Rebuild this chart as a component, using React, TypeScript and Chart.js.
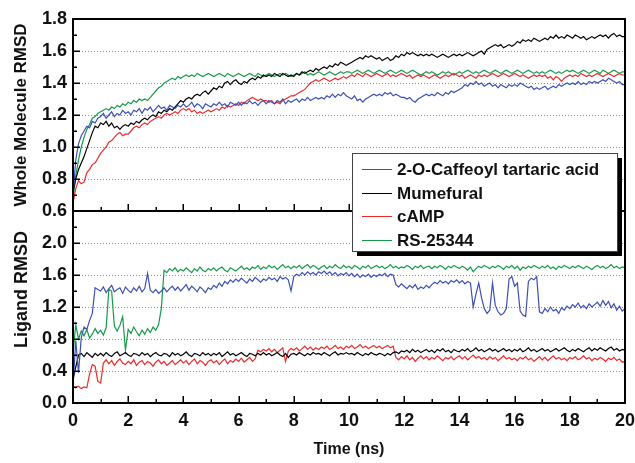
import { useEffect, useRef } from 'react';
import { Chart, registerables } from 'chart.js';

Chart.register(...registerables);

const seriesNames = ['2-O-Caffeoyl tartaric acid', 'Mumefural', 'cAMP', 'RS-25344'];
const seriesColors = ['#3c4fb4', '#000000', '#ec2a2a', '#17994b'];

// sampling times (ns), one sample every 0.1 ns from 0 to 20
const timeNs = Array.from({ length: 201 }, (_, i) => i / 10);

const timeTickValues = [0, 1, 2, 3, 4, 5, 6, 7, 8, 9, 10, 11, 12, 13, 14, 15, 16, 17, 18, 19, 20];
const timeTickLabels = ['0', '2', '4', '6', '8', '10', '12', '14', '16', '18', '20'];
const wholeTickValues = [0.6, 0.7, 0.8, 0.9, 1.0, 1.1, 1.2, 1.3, 1.4, 1.5, 1.6, 1.7, 1.8];
const wholeTickLabels = ['0.6', '0.8', '1.0', '1.2', '1.4', '1.6', '1.8'];
const ligandTickValues = [0, 0.2, 0.4, 0.6, 0.8, 1.0, 1.2, 1.4, 1.6, 1.8, 2.0, 2.2, 2.4];
const ligandTickLabels = ['0.0', '0.4', '0.8', '1.2', '1.6', '2.0'];

// Whole molecule RMSD (top panel)
const wholeBlue = [
  0.70, 0.92, 1.02, 1.07, 1.10, 1.13, 1.12, 1.16, 1.15, 1.18,
  1.19, 1.21, 1.18, 1.20, 1.22, 1.19, 1.21, 1.20, 1.23, 1.21,
  1.22, 1.20, 1.23, 1.22, 1.24, 1.21, 1.24, 1.23, 1.25, 1.22,
  1.24, 1.26, 1.24, 1.25, 1.23, 1.26, 1.25, 1.24, 1.26, 1.25,
  1.27, 1.25, 1.26, 1.28, 1.25, 1.27, 1.26, 1.24, 1.27, 1.26,
  1.25, 1.27, 1.26, 1.28, 1.26, 1.27, 1.25, 1.28, 1.27, 1.26,
  1.28, 1.26, 1.28, 1.27, 1.29, 1.27, 1.28, 1.26, 1.28, 1.29,
  1.27, 1.29, 1.28, 1.27, 1.29, 1.28, 1.30, 1.27, 1.29, 1.28,
  1.29, 1.30, 1.28, 1.30, 1.29, 1.31, 1.29, 1.30, 1.31, 1.30,
  1.31, 1.30, 1.32, 1.31, 1.33, 1.31, 1.33, 1.32, 1.34, 1.32,
  1.31, 1.30, 1.32, 1.29, 1.30, 1.28, 1.30, 1.31, 1.32, 1.33,
  1.32, 1.33, 1.32, 1.34, 1.33, 1.34, 1.32, 1.33, 1.32, 1.31,
  1.31, 1.30, 1.31, 1.29, 1.28, 1.30, 1.31, 1.32, 1.33, 1.32,
  1.33, 1.32, 1.34, 1.33, 1.32, 1.34, 1.33, 1.35, 1.34, 1.35,
  1.36, 1.37, 1.39, 1.38, 1.40, 1.39, 1.41, 1.39, 1.40, 1.38,
  1.39, 1.40, 1.38, 1.39, 1.37, 1.39, 1.38, 1.37, 1.39, 1.38,
  1.39, 1.38, 1.40, 1.39, 1.38, 1.37, 1.38, 1.36, 1.37, 1.36,
  1.37, 1.38, 1.36, 1.37, 1.38, 1.37, 1.39, 1.38, 1.39, 1.40,
  1.39, 1.40, 1.39, 1.41, 1.39, 1.40, 1.39, 1.41, 1.40, 1.41,
  1.40, 1.41, 1.42, 1.41, 1.43, 1.42, 1.41, 1.40, 1.41, 1.39,
  1.39,
];
const wholeBlack = [
  0.72, 0.80, 0.86, 0.90, 0.94, 0.99, 1.04, 1.09, 1.13, 1.12,
  1.15, 1.14, 1.16, 1.13, 1.15, 1.12, 1.13, 1.11, 1.13, 1.14,
  1.13, 1.15, 1.14, 1.16, 1.15, 1.17, 1.18, 1.17, 1.19, 1.20,
  1.19, 1.22, 1.21, 1.23, 1.22, 1.24, 1.23, 1.25, 1.27, 1.29,
  1.28, 1.30, 1.31, 1.30, 1.32, 1.33, 1.32, 1.34, 1.35, 1.33,
  1.35, 1.37, 1.36, 1.38, 1.37, 1.40, 1.41, 1.39, 1.41, 1.42,
  1.40, 1.39, 1.41, 1.40, 1.42, 1.43, 1.42, 1.44, 1.43, 1.45,
  1.44, 1.45, 1.44, 1.46, 1.45, 1.44, 1.46, 1.45, 1.44, 1.45,
  1.44, 1.46, 1.45, 1.47, 1.46, 1.47, 1.48, 1.47, 1.49, 1.48,
  1.49, 1.50, 1.49, 1.51, 1.50, 1.52, 1.51, 1.53, 1.52, 1.51,
  1.52, 1.53, 1.54, 1.55, 1.56, 1.55, 1.57, 1.56, 1.57, 1.56,
  1.55, 1.56, 1.54, 1.55, 1.56, 1.54, 1.55, 1.57, 1.56, 1.58,
  1.57, 1.59, 1.58, 1.59, 1.58, 1.57, 1.58, 1.57, 1.58, 1.57,
  1.58, 1.57, 1.56, 1.57, 1.58, 1.57, 1.56, 1.57, 1.58, 1.57,
  1.58, 1.57, 1.58, 1.59, 1.58, 1.57, 1.58, 1.59, 1.60, 1.58,
  1.61, 1.62, 1.63, 1.64, 1.63, 1.64, 1.62, 1.63, 1.64, 1.63,
  1.64, 1.66, 1.65, 1.67, 1.66, 1.67, 1.66, 1.68, 1.67, 1.66,
  1.67, 1.68, 1.67, 1.69, 1.68, 1.70, 1.68, 1.69, 1.68, 1.70,
  1.69, 1.68, 1.70, 1.69, 1.68, 1.69, 1.67, 1.68, 1.69, 1.68,
  1.69, 1.70, 1.69, 1.70, 1.68, 1.70, 1.71, 1.69, 1.70, 1.69,
  1.69,
];
const wholeRed = [
  0.65, 0.74, 0.79, 0.77, 0.78, 0.84, 0.86, 0.89, 0.90, 0.93,
  0.96, 0.98, 1.00, 1.03, 1.04, 1.06, 1.08, 1.09, 1.07, 1.08,
  1.08, 1.10, 1.12, 1.13, 1.12, 1.14, 1.15, 1.14, 1.16, 1.17,
  1.18, 1.19, 1.18, 1.20, 1.21, 1.20, 1.21, 1.22, 1.21, 1.23,
  1.24, 1.23, 1.24, 1.22, 1.23, 1.21, 1.22, 1.21, 1.22, 1.23,
  1.22, 1.23, 1.24, 1.23, 1.25, 1.24, 1.26, 1.25, 1.26, 1.27,
  1.26, 1.28, 1.27, 1.29, 1.30, 1.31, 1.30, 1.29, 1.30, 1.29,
  1.29, 1.28, 1.29, 1.27, 1.28, 1.27, 1.29, 1.30, 1.31, 1.32,
  1.32, 1.33, 1.34, 1.35, 1.36, 1.38, 1.40, 1.41, 1.42, 1.41,
  1.42, 1.43, 1.42, 1.41, 1.42, 1.43, 1.42, 1.43, 1.44, 1.43,
  1.44, 1.45, 1.44, 1.46, 1.45, 1.44, 1.46, 1.45, 1.44, 1.45,
  1.46, 1.45, 1.44, 1.45, 1.46, 1.44, 1.45, 1.44, 1.45, 1.46,
  1.45, 1.44, 1.45, 1.43, 1.44, 1.45, 1.44, 1.45, 1.44, 1.43,
  1.44, 1.45, 1.44, 1.43, 1.44, 1.45, 1.44, 1.45, 1.46, 1.45,
  1.44, 1.45, 1.43, 1.44, 1.45, 1.44, 1.43, 1.45, 1.44, 1.45,
  1.44, 1.45, 1.46, 1.45, 1.44, 1.45, 1.46, 1.45, 1.44, 1.45,
  1.46, 1.45, 1.44, 1.45, 1.44, 1.43, 1.44, 1.45, 1.44, 1.45,
  1.44, 1.45, 1.43, 1.44, 1.42, 1.44, 1.43, 1.41, 1.43, 1.44,
  1.45, 1.44, 1.45, 1.44, 1.46, 1.45, 1.44, 1.45, 1.44, 1.45,
  1.46, 1.45, 1.44, 1.45, 1.46, 1.45, 1.44, 1.45, 1.46, 1.45,
  1.45,
];
const wholeGreen = [
  0.67, 0.82, 0.92, 1.00, 1.06, 1.11, 1.14, 1.18, 1.19, 1.21,
  1.22, 1.23, 1.24, 1.23, 1.25, 1.24, 1.26, 1.25, 1.27, 1.26,
  1.28, 1.27, 1.29, 1.28, 1.30, 1.29, 1.30, 1.29, 1.31, 1.33,
  1.35, 1.37, 1.38, 1.40, 1.41, 1.42, 1.43, 1.42, 1.44, 1.43,
  1.44, 1.45, 1.44, 1.45, 1.44, 1.46, 1.45, 1.44, 1.45, 1.46,
  1.45, 1.44, 1.45, 1.46, 1.45, 1.44, 1.46, 1.45, 1.44, 1.45,
  1.46, 1.45, 1.44, 1.45, 1.46, 1.45, 1.44, 1.46, 1.45, 1.44,
  1.45, 1.46, 1.45, 1.44, 1.45, 1.46, 1.45, 1.46, 1.45, 1.44,
  1.45, 1.46, 1.45, 1.46, 1.47, 1.45, 1.46, 1.45, 1.46, 1.47,
  1.46, 1.45, 1.46, 1.47, 1.46, 1.45, 1.46, 1.47, 1.46, 1.47,
  1.47, 1.46, 1.47, 1.48, 1.47, 1.46, 1.47, 1.48, 1.47, 1.46,
  1.47, 1.48, 1.47, 1.46, 1.47, 1.48, 1.47, 1.46, 1.47, 1.48,
  1.47, 1.46, 1.47, 1.48, 1.47, 1.46, 1.45, 1.46, 1.47, 1.46,
  1.47, 1.46, 1.45, 1.46, 1.47, 1.46, 1.47, 1.46, 1.45, 1.46,
  1.47, 1.46, 1.47, 1.48, 1.47, 1.46, 1.47, 1.46, 1.47, 1.48,
  1.47, 1.46, 1.47, 1.48, 1.47, 1.46, 1.47, 1.48, 1.47, 1.46,
  1.47, 1.48, 1.47, 1.46, 1.47, 1.48, 1.47, 1.46, 1.47, 1.46,
  1.47, 1.46, 1.47, 1.48, 1.47, 1.46, 1.47, 1.46, 1.47, 1.48,
  1.47, 1.48, 1.47, 1.46, 1.47, 1.48, 1.47, 1.46, 1.47, 1.48,
  1.47, 1.46, 1.48, 1.47, 1.46, 1.47, 1.48, 1.47, 1.46, 1.47,
  1.47,
];

// Ligand RMSD (bottom panel)
const ligandBlue = [
  0.20, 0.78, 0.38, 0.82, 0.95, 0.92, 1.03, 1.12, 1.44, 1.42,
  1.40, 1.45, 1.38, 1.43, 1.47, 1.39, 1.42, 1.44, 1.37, 1.45,
  1.41, 1.38, 1.44, 1.40, 1.46, 1.39, 1.43, 1.62, 1.41, 1.38,
  1.42, 1.37, 1.40, 1.44, 1.39, 1.43, 1.46, 1.41, 1.45, 1.40,
  1.44, 1.48, 1.41, 1.46, 1.43, 1.39, 1.45, 1.42, 1.38, 1.44,
  1.42, 1.47, 1.44, 1.50, 1.46, 1.52, 1.49, 1.54, 1.51, 1.55,
  1.52, 1.56, 1.53, 1.50, 1.55, 1.52, 1.57, 1.54, 1.51, 1.55,
  1.53, 1.57, 1.54, 1.56, 1.52, 1.58, 1.55, 1.57, 1.54, 1.40,
  1.58, 1.61, 1.59, 1.63, 1.60, 1.64, 1.61, 1.63, 1.60, 1.64,
  1.62, 1.65, 1.61, 1.64, 1.60, 1.63, 1.59, 1.62, 1.60, 1.63,
  1.59, 1.62, 1.58, 1.61, 1.57, 1.60, 1.58, 1.61, 1.57, 1.60,
  1.58, 1.61, 1.59, 1.62, 1.58, 1.61, 1.60, 1.48, 1.45, 1.49,
  1.46, 1.43, 1.47, 1.44, 1.48, 1.42, 1.45, 1.43, 1.47, 1.44,
  1.48, 1.51, 1.49, 1.53, 1.50, 1.52, 1.49, 1.53, 1.51, 1.54,
  1.50, 1.53, 1.49, 1.52, 1.50, 1.20, 1.36, 1.50, 1.32, 1.18,
  1.12, 1.16, 1.50, 1.22, 1.14, 1.10, 1.12, 1.18, 1.55, 1.58,
  1.46, 1.50, 1.15, 1.10, 1.08, 1.52, 1.56, 1.54, 1.58, 1.14,
  1.12, 1.18, 1.14, 1.20, 1.15, 1.17, 1.12, 1.19, 1.16, 1.21,
  1.18, 1.23, 1.20, 1.25, 1.19, 1.22, 1.18, 1.24, 1.20, 1.23,
  1.26, 1.21, 1.28, 1.22, 1.27, 1.19, 1.24, 1.16, 1.21, 1.15,
  1.18,
];
const ligandBlack = [
  0.29, 0.45, 0.60, 0.62, 0.58, 0.63, 0.60, 0.57, 0.62, 0.59,
  0.62, 0.59, 0.63, 0.60, 0.58, 0.62, 0.64, 0.59, 0.61, 0.63,
  0.60, 0.58, 0.62, 0.61, 0.59, 0.63, 0.60, 0.62, 0.58, 0.61,
  0.63, 0.60, 0.59, 0.62, 0.61, 0.58, 0.63, 0.60, 0.62, 0.59,
  0.61, 0.64, 0.60, 0.58, 0.62, 0.61, 0.59, 0.63, 0.60, 0.62,
  0.59, 0.62, 0.60, 0.63, 0.58, 0.61, 0.64, 0.60, 0.62, 0.59,
  0.61, 0.63, 0.60, 0.58, 0.62, 0.61, 0.59, 0.62, 0.60, 0.63,
  0.60, 0.62, 0.59, 0.61, 0.63, 0.60, 0.58, 0.62, 0.57, 0.61,
  0.62, 0.60, 0.63, 0.61, 0.59, 0.62, 0.60, 0.63, 0.61, 0.62,
  0.60, 0.63, 0.61, 0.59, 0.62, 0.64, 0.60, 0.62, 0.61, 0.63,
  0.61, 0.62, 0.60, 0.63, 0.61, 0.59, 0.62, 0.60, 0.63, 0.61,
  0.60, 0.62, 0.61, 0.59, 0.62, 0.60, 0.63, 0.64, 0.62, 0.65,
  0.64, 0.66, 0.63, 0.67, 0.64, 0.66, 0.63, 0.65, 0.67, 0.64,
  0.66, 0.63, 0.67, 0.65, 0.68, 0.64, 0.66, 0.63, 0.67, 0.65,
  0.64, 0.67, 0.65, 0.68, 0.64, 0.66, 0.69, 0.65, 0.67, 0.64,
  0.66, 0.68, 0.65, 0.67, 0.64, 0.66, 0.68, 0.65, 0.67, 0.64,
  0.67, 0.65, 0.68, 0.64, 0.66, 0.69, 0.65, 0.67, 0.64, 0.66,
  0.68, 0.65, 0.67, 0.64, 0.66, 0.68, 0.65, 0.67, 0.69, 0.66,
  0.64, 0.67, 0.65, 0.68, 0.66, 0.64, 0.67, 0.69, 0.65, 0.68,
  0.66, 0.69, 0.67, 0.65, 0.68, 0.70, 0.66, 0.68, 0.65, 0.67,
  0.66,
];
const ligandRed = [
  0.20, 0.19, 0.21, 0.18, 0.20, 0.19, 0.36, 0.48, 0.46, 0.27,
  0.25, 0.50, 0.54, 0.49, 0.53, 0.47, 0.52, 0.55, 0.50, 0.48,
  0.52, 0.49, 0.54, 0.47, 0.51, 0.53, 0.48, 0.52, 0.50, 0.46,
  0.51, 0.54, 0.49, 0.52, 0.47, 0.50, 0.53, 0.48, 0.51, 0.54,
  0.50, 0.53, 0.48, 0.52, 0.55, 0.49, 0.53, 0.51, 0.47, 0.52,
  0.54, 0.50, 0.53, 0.48, 0.52, 0.55, 0.49, 0.53, 0.51, 0.55,
  0.52, 0.56, 0.51, 0.54, 0.57, 0.52, 0.55, 0.66, 0.64, 0.67,
  0.65, 0.68, 0.64, 0.67, 0.63, 0.66, 0.69, 0.52, 0.65, 0.68,
  0.66, 0.69, 0.65, 0.68, 0.71, 0.67, 0.70, 0.66, 0.69, 0.67,
  0.70, 0.68, 0.71, 0.67, 0.69, 0.72, 0.68, 0.70, 0.67, 0.71,
  0.69, 0.72, 0.68, 0.70, 0.73, 0.69, 0.71, 0.68, 0.70, 0.72,
  0.69, 0.71, 0.68, 0.70, 0.72, 0.69, 0.71, 0.57, 0.54, 0.58,
  0.55, 0.59, 0.54, 0.57, 0.52, 0.56, 0.59, 0.55, 0.58, 0.54,
  0.57, 0.55, 0.59, 0.56, 0.53, 0.57, 0.55, 0.58, 0.54, 0.57,
  0.59, 0.55, 0.58, 0.54, 0.57, 0.60, 0.56, 0.58, 0.55, 0.57,
  0.54, 0.58, 0.55, 0.57, 0.53, 0.56, 0.59, 0.55, 0.57, 0.54,
  0.56, 0.53, 0.57, 0.55, 0.58, 0.54, 0.56, 0.52, 0.55, 0.58,
  0.54, 0.57, 0.53, 0.56, 0.59, 0.55, 0.57, 0.54, 0.56, 0.53,
  0.57, 0.55, 0.58, 0.54, 0.56, 0.59, 0.55, 0.57, 0.53, 0.56,
  0.54, 0.57, 0.55, 0.52, 0.56, 0.54, 0.57, 0.53, 0.55, 0.51,
  0.52,
];
const ligandGreen = [
  0.62, 0.98, 0.80, 0.90, 0.84, 0.92, 0.81, 0.86, 0.93, 0.87,
  0.91, 0.85, 0.94, 1.42, 1.40, 0.96, 0.90, 0.97, 1.08, 0.66,
  0.92, 0.87, 0.95, 0.89, 0.84, 0.91, 0.86, 0.93, 0.88, 0.95,
  0.91, 0.98, 1.18, 1.66, 1.63, 1.68, 1.65, 1.69, 1.64, 1.67,
  1.65, 1.69, 1.66, 1.63, 1.68, 1.65, 1.70, 1.66, 1.64, 1.68,
  1.66, 1.69, 1.65, 1.68, 1.70, 1.66, 1.64, 1.69, 1.67, 1.65,
  1.68, 1.71, 1.67, 1.69, 1.66, 1.70, 1.68, 1.72, 1.67, 1.70,
  1.68, 1.72, 1.69, 1.71, 1.67, 1.70, 1.73, 1.69, 1.71, 1.68,
  1.71, 1.69, 1.72, 1.68, 1.71, 1.73, 1.69, 1.72, 1.70, 1.67,
  1.70, 1.72, 1.68, 1.71, 1.69, 1.73, 1.70, 1.68, 1.72, 1.69,
  1.71, 1.68, 1.72, 1.70, 1.67, 1.71, 1.69, 1.72, 1.68, 1.70,
  1.72, 1.69, 1.71, 1.68, 1.70, 1.73, 1.69, 1.71, 1.68, 1.70,
  1.69, 1.72, 1.70, 1.67, 1.71, 1.69, 1.72, 1.68, 1.70, 1.71,
  1.68, 1.71, 1.69, 1.72, 1.70, 1.67, 1.71, 1.69, 1.72, 1.70,
  1.68, 1.71, 1.69, 1.66, 1.70, 1.64, 1.68, 1.71, 1.69, 1.72,
  1.70, 1.68, 1.71, 1.69, 1.72, 1.70, 1.67, 1.71, 1.69, 1.72,
  1.68, 1.71, 1.66, 1.70, 1.68, 1.71, 1.69, 1.72, 1.70, 1.68,
  1.71, 1.69, 1.72, 1.68, 1.70, 1.67, 1.71, 1.69, 1.72, 1.70,
  1.68, 1.71, 1.69, 1.72, 1.70, 1.68, 1.71, 1.69, 1.67, 1.70,
  1.72, 1.69, 1.71, 1.68, 1.70, 1.73, 1.69, 1.71, 1.68, 1.70,
  1.69,
];

const wholeSeries = [wholeBlue, wholeBlack, wholeRed, wholeGreen];
const ligandSeries = [ligandBlue, ligandBlack, ligandRed, ligandGreen];

const FONT = "'Liberation Sans', Arial, Helvetica, sans-serif";

function labelFor(labels: string[], v: number): string {
  const hit = labels.find((l) => Math.abs(parseFloat(l) - v) < 1e-6);
  return hit === undefined ? '' : hit;
}

function toXY(vals: number[]) {
  return vals.map((y, i) => ({ x: timeNs[i], y }));
}

const framePlugin = {
  id: 'panelFrame',
  afterDatasetsDraw(chart: any) {
    const { ctx, chartArea: ca } = chart;
    const xs = chart.scales.x;
    const yW = chart.scales.yW;
    const yL = chart.scales.yL;
    ctx.save();
    ctx.strokeStyle = '#000';
    ctx.lineWidth = 1.5;
    ctx.beginPath();
    xs.ticks.forEach((t: any) => {
      const px = Math.round(xs.getPixelForValue(t.value)) + 0.25;
      const len = labelFor(timeTickLabels, t.value) ? 7 : 4;
      ctx.moveTo(px, ca.bottom);
      ctx.lineTo(px, ca.bottom - len);
      ctx.moveTo(px, yW.bottom);
      ctx.lineTo(px, yW.bottom - len);
    });
    yW.ticks.forEach((t: any) => {
      const py = Math.round(yW.getPixelForValue(t.value)) + 0.25;
      const len = labelFor(wholeTickLabels, t.value) ? 7 : 4;
      ctx.moveTo(ca.left, py);
      ctx.lineTo(ca.left + len, py);
    });
    yL.ticks.forEach((t: any) => {
      const py = Math.round(yL.getPixelForValue(t.value)) + 0.25;
      const len = labelFor(ligandTickLabels, t.value) ? 7 : 4;
      ctx.moveTo(ca.left, py);
      ctx.lineTo(ca.left + len, py);
    });
    ctx.stroke();
    ctx.lineWidth = 2;
    ctx.strokeRect(ca.left, ca.top, ca.right - ca.left, ca.bottom - ca.top);
    ctx.beginPath();
    ctx.moveTo(ca.left, yW.bottom);
    ctx.lineTo(ca.right, yW.bottom);
    ctx.stroke();
    ctx.restore();
  },
  afterDraw(chart: any) {
    const { ctx, chartArea: ca } = chart;
    const lx = ca.left + 279;
    const ly = ca.top + 134;
    const lw = 265;
    const lh = 98;
    ctx.save();
    ctx.fillStyle = '#000';
    ctx.fillRect(lx + 5, ly + 5, lw, lh);
    ctx.fillStyle = '#fff';
    ctx.fillRect(lx, ly, lw, lh);
    ctx.strokeStyle = '#444';
    ctx.lineWidth = 1;
    ctx.strokeRect(lx + 0.5, ly + 0.5, lw, lh);
    ctx.font = `bold 17px ${FONT}`;
    ctx.textBaseline = 'middle';
    ctx.textAlign = 'left';
    chart.data.datasets.slice(0, 4).forEach((ds: any, i: number) => {
      const ry = Math.round(ly + 16 + i * 23.7) + 0.5;
      ctx.strokeStyle = ds.borderColor;
      ctx.lineWidth = 1;
      ctx.beginPath();
      ctx.moveTo(lx + 10, ry);
      ctx.lineTo(lx + 40, ry);
      ctx.stroke();
      ctx.fillStyle = '#111';
      ctx.fillText(ds.label, lx + 45, ry + 1);
    });
    ctx.restore();
  },
};

function gridColor(labels: string[]) {
  return (c: any) => {
    const v = c.tick ? c.tick.value : NaN;
    return labelFor(labels, v) ? '#8a8a8a' : 'rgba(0,0,0,0)';
  };
}

export default function App() {
  const ref = useRef<HTMLCanvasElement | null>(null);

  useEffect(() => {
    document.body.style.margin = '0';
    const canvas = ref.current;
    if (!canvas) return;

    const datasets: any[] = [];
    seriesNames.forEach((name, i) => {
      datasets.push({
        label: name,
        data: toXY(wholeSeries[i]),
        yAxisID: 'yW',
        borderColor: seriesColors[i],
        borderWidth: 1.2,
        pointRadius: 0,
        tension: 0,
      });
    });
    seriesNames.forEach((name, i) => {
      datasets.push({
        label: name + ' (ligand)',
        data: toXY(ligandSeries[i]),
        yAxisID: 'yL',
        borderColor: seriesColors[i],
        borderWidth: 1.2,
        pointRadius: 0,
        tension: 0,
      });
    });

    const tickFont = { family: FONT, size: 18, weight: 'bold' as const };

    const chart = new Chart(canvas, {
      type: 'line',
      data: { datasets },
      plugins: [framePlugin],
      options: {
        animation: false,
        responsive: false,
        layout: { padding: { top: 19, right: 10, left: 0, bottom: 0 } },
        plugins: { legend: { display: false }, tooltip: { enabled: false } },
        scales: {
          x: {
            type: 'linear',
            min: 0,
            max: 20,
            afterBuildTicks: (s: any) => {
              s.ticks = timeTickValues.map((v) => ({ value: v }));
            },
            afterFit: (s: any) => {
              s.height = 60;
              s.paddingLeft = 0;
              s.paddingRight = 0;
            },
            grid: { display: false, drawTicks: false },
            border: { display: false },
            ticks: {
              autoSkip: false,
              maxRotation: 0,
              padding: 7,
              color: '#111',
              font: tickFont,
              callback: (v: any) => labelFor(timeTickLabels, Number(v)),
            },
            title: {
              display: true,
              text: 'Time (ns)',
              color: '#111',
              font: { family: FONT, size: 16, weight: 'bold' },
              padding: { top: 0, bottom: 4 },
            },
          },
          yL: {
            type: 'linear',
            position: 'left',
            stack: 'rmsd',
            stackWeight: 1,
            min: 0,
            max: 2.4,
            afterBuildTicks: (s: any) => {
              s.ticks = ligandTickValues.map((v) => ({ value: v }));
            },
            afterFit: (s: any) => {
              s.width = 73;
            },
            grid: { color: gridColor(ligandTickLabels), lineWidth: 1, drawTicks: false },
            border: { display: false, dash: [1, 2] },
            ticks: {
              autoSkip: false,
              padding: 6,
              color: '#111',
              font: tickFont,
              callback: (v: any) => labelFor(ligandTickLabels, Number(v)),
            },
            title: {
              display: true,
              text: '       Ligand RMSD',
              color: '#111',
              font: { family: FONT, size: 18, weight: 'bold' },
              padding: { top: 11, bottom: 0 },
            },
          },
          yW: {
            type: 'linear',
            position: 'left',
            stack: 'rmsd',
            stackWeight: 1,
            min: 0.6,
            max: 1.8,
            afterBuildTicks: (s: any) => {
              s.ticks = wholeTickValues.map((v) => ({ value: v }));
            },
            afterFit: (s: any) => {
              s.width = 73;
            },
            grid: { color: gridColor(wholeTickLabels), lineWidth: 1, drawTicks: false },
            border: { display: false, dash: [1, 2] },
            ticks: {
              autoSkip: false,
              padding: 6,
              color: '#111',
              font: tickFont,
              callback: (v: any) => labelFor(wholeTickLabels, Number(v)),
            },
            title: {
              display: true,
              text: 'Whole Molecule RMSD',
              color: '#111',
              font: { family: FONT, size: 17, weight: 'bold' },
              padding: { top: 11, bottom: 0 },
            },
          },
        },
      } as any,
    });

    return () => {
      chart.destroy();
    };
  }, []);

  return (
    <div style={{ width: 635, height: 463, background: '#fff' }}>
      <canvas ref={ref} width={635} height={463} style={{ display: 'block' }} />
    </div>
  );
}
